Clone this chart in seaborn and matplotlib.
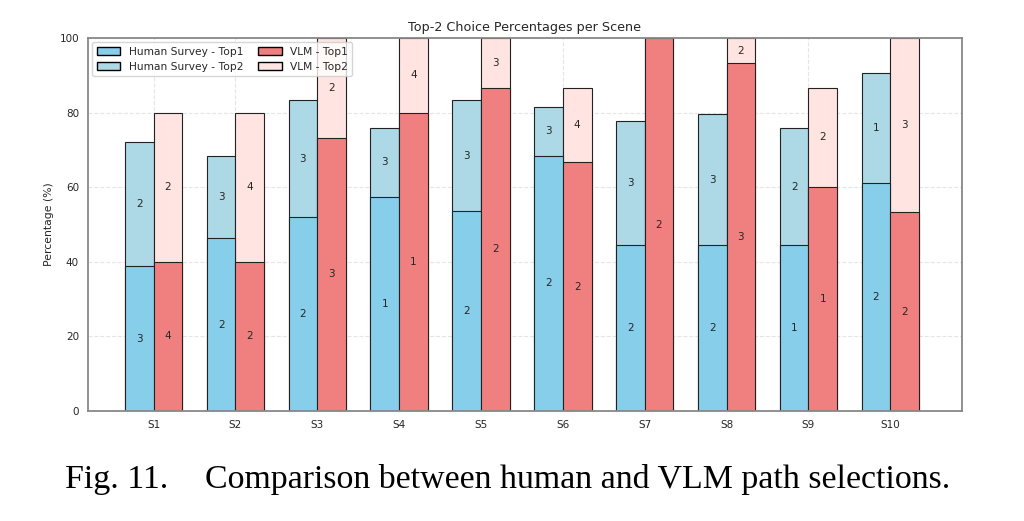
import pandas as pd
import seaborn as sns
import matplotlib.pyplot as plt
from matplotlib.patches import Patch

scenes = ['S1', 'S2', 'S3', 'S4', 'S5', 'S6', 'S7', 'S8', 'S9', 'S10']

# Human survey (percent), top1 and top2 shares
human_top1 = [38.9, 46.3, 51.9, 57.4, 53.7, 68.5, 44.4, 44.4, 44.4, 61.1]
human_top2 = [33.3, 22.2, 31.5, 18.5, 29.6, 13.0, 33.3, 35.2, 31.5, 29.6]
# VLM (percent)
vlm_top1 = [40.0, 40.0, 73.3, 80.0, 86.7, 66.7, 100.0, 93.3, 60.0, 53.3]
vlm_top2 = [40.0, 40.0, 26.7, 20.0, 13.3, 20.0, 0.0, 6.7, 26.7, 46.7]

# chosen path id shown inside each segment
human_top1_lbl = [3, 2, 2, 1, 2, 2, 2, 2, 1, 2]
human_top2_lbl = [2, 3, 3, 3, 3, 3, 3, 3, 2, 1]
vlm_top1_lbl = [4, 2, 3, 1, 2, 2, 2, 3, 1, 2]
vlm_top2_lbl = [2, 4, 2, 4, 3, 4, 0, 2, 2, 3]

sns.set_style('white')
plt.rcParams['font.family'] = ['DejaVu Sans']

df = pd.DataFrame({
    'Scene': scenes * 2,
    'Source': ['Human Survey'] * len(scenes) + ['VLM'] * len(scenes),
    'Top1': human_top1 + vlm_top1,
    'Top2': human_top2 + vlm_top2,
    'Top1Label': human_top1_lbl + vlm_top1_lbl,
    'Top2Label': human_top2_lbl + vlm_top2_lbl,
})
df['Total'] = df['Top1'] + df['Top2']

fig = plt.figure(figsize=(10.24, 5.21), dpi=100)
ax = fig.add_axes([0.086, 0.211, 0.853, 0.716])

bar_kw = dict(width=0.7, edgecolor='#222222', linewidth=0.8, saturation=1, legend=False, ax=ax)
sns.barplot(data=df, x='Scene', y='Total', hue='Source', palette=['#ADD8E6', '#FFE4E1'], **bar_kw)
n_tot = len(ax.containers)
sns.barplot(data=df, x='Scene', y='Top1', hue='Source', palette=['#87CEEB', '#F08080'], **bar_kw)

sources = ['Human Survey', 'VLM']
for i, src in enumerate(sources):
    sub = df[df['Source'] == src].reset_index(drop=True)
    top_bars = ax.containers[n_tot + i]
    for j, bar in enumerate(top_bars):
        xc = bar.get_x() + bar.get_width() / 2
        t1, t2 = sub.loc[j, 'Top1'], sub.loc[j, 'Top2']
        if t1 > 0:
            ax.text(xc, t1 / 2, str(sub.loc[j, 'Top1Label']), ha='center', va='center', fontsize=7.5)
        if t2 > 0:
            ax.text(xc, t1 + t2 / 2, str(sub.loc[j, 'Top2Label']), ha='center', va='center', fontsize=7.5)

ax.set_xlim(-0.8, 9.87)
ax.set_ylim(0, 100)
ax.set_xlabel('')
ax.set_ylabel('Percentage (%)', fontsize=7.8)
ax.set_title('Top-2 Choice Percentages per Scene', fontsize=9.2, pad=5)
ax.tick_params(axis='both', labelsize=7.5, length=3, color='#555555')
ax.set_yticks([0, 20, 40, 60, 80, 100])
ax.grid(True, linestyle='--', alpha=0.5)
ax.set_axisbelow(True)
for sp in ax.spines.values():
    sp.set_color('#888888')
    sp.set_linewidth(1.3)

handles = [
    Patch(facecolor='#87CEEB', edgecolor='black', label='Human Survey - Top1'),
    Patch(facecolor='#ADD8E6', edgecolor='black', label='Human Survey - Top2'),
    Patch(facecolor='#F08080', edgecolor='black', label='VLM - Top1'),
    Patch(facecolor='#FFE4E1', edgecolor='black', label='VLM - Top2'),
]
ax.legend(handles=handles, ncol=2, loc='upper left', fontsize=7.7, frameon=True,
          handlelength=2.2, columnspacing=1.4, borderaxespad=0.4)

serif = ['Liberation Serif', 'DejaVu Serif']
fig.text(0.063, 0.063, 'Fig. 11.', fontsize=24.4, family=serif, color='black',
         ha='left', va='baseline')
fig.text(0.200, 0.063, 'Comparison between human and VLM path selections.',
         fontsize=24.4, family=serif, color='black', ha='left', va='baseline')

fig.savefig('out.png', dpi=100)
